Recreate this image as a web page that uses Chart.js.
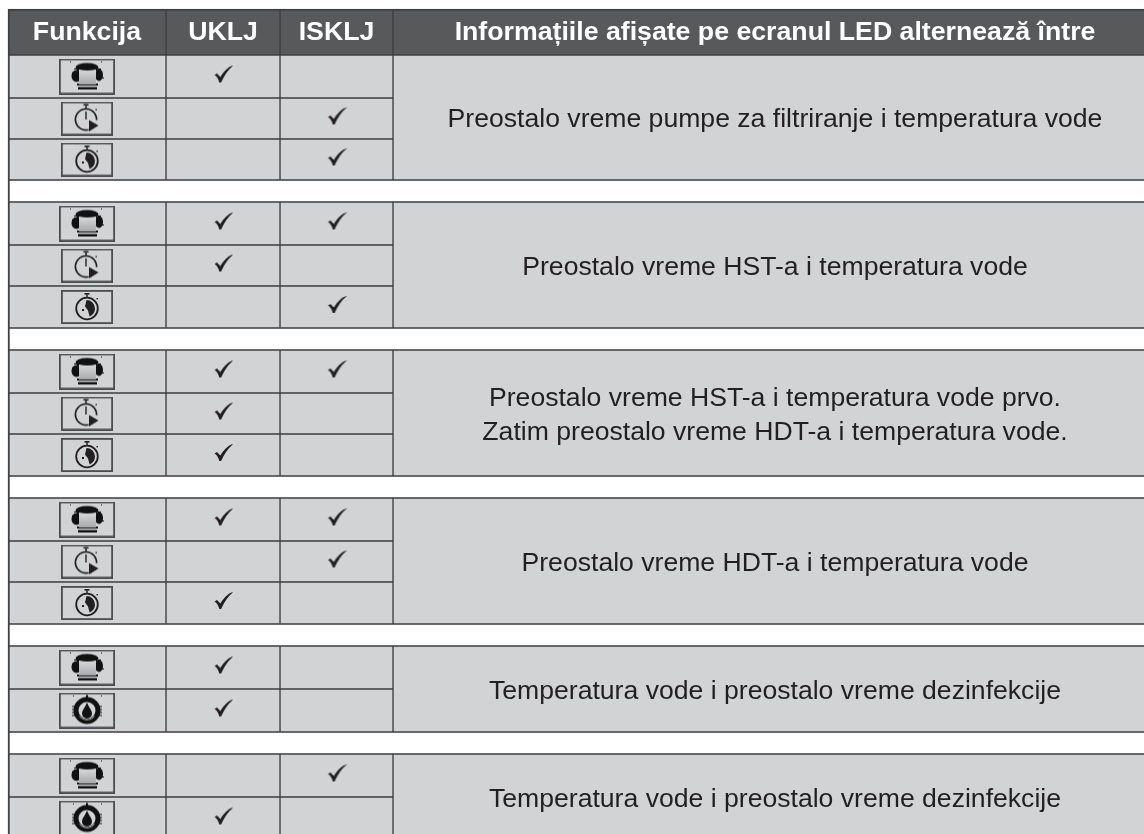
<!DOCTYPE html>
<html>
<head>
<meta charset="utf-8">
<title>Funkcija</title>
<script src="https://cdn.jsdelivr.net/npm/chart.js@4"></script>
<style>
  html, body { margin: 0; padding: 0; background: #fff; }
  canvas { display: block; }
</style>
</head>
<body>
<canvas id="myChart" width="1144" height="834"></canvas>
<script>
// table content
const headers = ["Funkcija", "UKLJ", "ISKLJ", "Informațiile afișate pe ecranul LED alternează între"];
const functionIcons = [
  "pump", "timerPlay", "timerClock",
  "pump", "timerPlay", "timerClock",
  "pump", "timerPlay", "timerClock",
  "pump", "timerPlay", "timerClock",
  "pump", "dial",
  "pump", "dial",
];
const onChecks =  [1, 0, 0, 1, 1, 0, 1, 1, 1, 1, 0, 1, 1, 1, 0, 1];
const offChecks = [0, 1, 1, 1, 0, 1, 1, 0, 0, 1, 1, 0, 0, 0, 1, 0];
const groupMessages = [
  ["Preostalo vreme pumpe za filtriranje i temperatura vode"],
  ["Preostalo vreme HST-a i temperatura vode"],
  ["Preostalo vreme HST-a i temperatura vode prvo.", "Zatim preostalo vreme HDT-a i temperatura vode."],
  ["Preostalo vreme HDT-a i temperatura vode"],
  ["Temperatura vode i preostalo vreme dezinfekcije"],
  ["Temperatura vode i preostalo vreme dezinfekcije"],
];

// layout of the table, in axis units (axes run 1:1 with the canvas)
const colEdges = [8, 166, 280, 393, 1157];
const headerEdges = [9, 55];
const groupEdges = [
  [55, 98, 139, 180],
  [202, 245, 286, 328],
  [350, 393, 434, 476],
  [498, 541, 582, 624],
  [646, 689, 732],
  [754, 797, 840],
];

const lineColor = "#3f3f41";
const headerFill = "#58595b";
const cellFill = "#d1d3d4";
const textColor = "#231f20";

const center = (a, b) => (a + b) / 2;
const colCenter = (i) => center(colEdges[i], colEdges[i + 1]);
const colWidth = (i) => colEdges[i + 1] - colEdges[i];

// row spans, one per table row
const rowSpans = [];
groupEdges.forEach((edges) => {
  for (let i = 0; i < edges.length - 1; i++) rowSpans.push([edges[i], edges[i + 1]]);
});

function makeCanvas(w, h, draw) {
  const c = document.createElement("canvas");
  c.width = w;
  c.height = h;
  draw(c.getContext("2d"), w, h);
  return c;
}

function iconBox(ctx, w, h) {
  ctx.strokeStyle = "#4d4d4f";
  ctx.lineWidth = 1.8;
  ctx.strokeRect(0.9, 0.9, w - 1.8, h - 1.8);
}

function drawPump(ctx, w, h) {
  iconBox(ctx, w, h);
  ctx.fillStyle = "#111";
  ctx.fillRect(11, 3, 1, 1);
  ctx.fillRect(42, 3, 1, 1);
  ctx.filter = "blur(0.6px)";
  // top cap
  ctx.beginPath();
  ctx.ellipse(28, 9, 11.5, 4.5, 0, 0, Math.PI * 2);
  ctx.fill();
  ctx.fillRect(18, 9, 20, 3);
  // side blobs
  ctx.beginPath();
  ctx.ellipse(17.5, 17.5, 5, 6, 0, 0, Math.PI * 2);
  ctx.fill();
  ctx.beginPath();
  ctx.ellipse(40, 16.5, 4, 6, 0, 0, Math.PI * 2);
  ctx.fill();
  // side streaks
  ctx.fillRect(15, 10, 3, 1);
  ctx.fillRect(13, 14, 3, 1);
  ctx.fillRect(39, 10, 3, 1);
  ctx.fillRect(42, 19, 3, 1);
  // bottom lip
  ctx.fillRect(18, 25, 21, 2);
  ctx.fillRect(19, 28.5, 19, 2.5);
  // body
  const g = ctx.createLinearGradient(0, 11, 0, 27);
  g.addColorStop(0, "#d8d9da");
  g.addColorStop(1, "#a3a5a7");
  ctx.fillStyle = g;
  ctx.beginPath();
  ctx.moveTo(20, 11);
  ctx.quadraticCurveTo(28.5, 13, 37, 11);
  ctx.lineTo(37, 26);
  ctx.lineTo(20, 26);
  ctx.closePath();
  ctx.fill();
  ctx.filter = "none";
}

function stopwatchBase(ctx, cx, cy) {
  ctx.strokeStyle = "#231f20";
  ctx.fillStyle = "#231f20";
  ctx.lineWidth = 1.6;
  ctx.fillRect(cx - 2.5, cy - 15.5, 5, 1.6);
  ctx.fillRect(cx - 0.7, cy - 14.5, 1.4, 3.5);
  ctx.fillRect(cx + 9.5, cy - 10.5, 1.4, 1.4);
}

function drawTimerPlay(ctx, w, h) {
  iconBox(ctx, w, h);
  const cx = 25, cy = 18;
  stopwatchBase(ctx, cx, cy);
  ctx.lineWidth = 1.7;
  ctx.beginPath();
  ctx.arc(cx, cy, 10.6, Math.PI * 0.42, Math.PI * 2.02);
  ctx.stroke();
  ctx.fillRect(cx - 0.7, cy - 8, 1.4, 8);
  ctx.beginPath();
  ctx.moveTo(cx + 3, cy + 0.5);
  ctx.lineTo(cx + 12.5, cy + 6);
  ctx.lineTo(cx + 3, cy + 12);
  ctx.closePath();
  ctx.fill();
}

function drawTimerClock(ctx, w, h) {
  iconBox(ctx, w, h);
  const cx = 26, cy = 18.5;
  stopwatchBase(ctx, cx, cy);
  ctx.lineWidth = 1.8;
  ctx.beginPath();
  ctx.arc(cx, cy, 10.8, 0, Math.PI * 2);
  ctx.stroke();
  ctx.beginPath();
  ctx.moveTo(cx - 0.5, cy - 8.5);
  ctx.arc(cx - 0.5, cy, 8.5, -Math.PI / 2, Math.PI * 0.38);
  ctx.lineTo(cx + 1, cy + 2);
  ctx.lineTo(cx - 2, cy - 2);
  ctx.closePath();
  ctx.fill();
  ctx.fillRect(cx - 5, cy + 0.5, 2, 2);
}

function drawDial(ctx, w, h) {
  iconBox(ctx, w, h);
  const cx = 28, cy = 18;
  ctx.fillStyle = "#111";
  ctx.strokeStyle = "#111";
  ctx.fillRect(14, 3, 1, 1);
  ctx.fillRect(42, 3, 1, 1);
  ctx.filter = "blur(0.5px)";
  ctx.lineWidth = 5;
  ctx.beginPath();
  ctx.arc(cx, cy, 11, 0, Math.PI * 2);
  ctx.stroke();
  ctx.fillRect(cx - 1, cy - 15.5, 2, 3);
  ctx.lineWidth = 1;
  [-4, -1, 2, 5].forEach((d) => {
    ctx.beginPath();
    ctx.moveTo(cx - 15, cy + d);
    ctx.lineTo(cx - 12, cy + d);
    ctx.moveTo(cx + 15, cy + d);
    ctx.lineTo(cx + 12, cy + d);
    ctx.stroke();
  });
  // drop
  ctx.beginPath();
  ctx.moveTo(cx, cy - 8);
  ctx.bezierCurveTo(cx + 2, cy - 3, cx + 5, cy + 0, cx + 5, cy + 3);
  ctx.arc(cx, cy + 3, 5, 0, Math.PI);
  ctx.bezierCurveTo(cx - 5, cy + 0, cx - 2, cy - 3, cx, cy - 8);
  ctx.fill();
  ctx.filter = "none";
  ctx.strokeStyle = "#d1d3d4";
  ctx.lineWidth = 0.8;
  ctx.beginPath();
  ctx.arc(cx, cy, 9.4, Math.PI * 0.2, Math.PI * 0.8);
  ctx.stroke();
}

const iconStyles = {
  pump: makeCanvas(56, 36, drawPump),
  timerPlay: makeCanvas(52, 34, drawTimerPlay),
  timerClock: makeCanvas(52, 34, drawTimerClock),
  dial: makeCanvas(56, 36, drawDial),
};

// glyph sits a little above the row centre, like in the manual
const checkStyle = makeCanvas(20, 24, (ctx) => {
  ctx.fillStyle = "#231f20";
  ctx.translate(1.5, 1);
  ctx.beginPath();
  ctx.moveTo(0, 9.5);
  ctx.lineTo(2.5, 8);
  ctx.lineTo(5.8, 11.5);
  ctx.bezierCurveTo(9, 6, 13, 2, 18, 0);
  ctx.lineTo(18, 0.8);
  ctx.bezierCurveTo(13, 5, 10, 10, 6.6, 17);
  ctx.lineTo(4.8, 17);
  ctx.bezierCurveTo(3.8, 13.5, 2.5, 11, 0, 9.5);
  ctx.closePath();
  ctx.fill();
});

function columnBars(col) {
  const data = [{ x: colCenter(col), y: headerEdges }];
  const fills = [headerFill];
  if (col < 3) {
    rowSpans.forEach((span) => {
      data.push({ x: colCenter(col), y: span });
      fills.push(cellFill);
    });
  } else {
    groupEdges.forEach((edges) => {
      data.push({ x: colCenter(col), y: [edges[0], edges[edges.length - 1]] });
      fills.push(cellFill);
    });
  }
  return {
    type: "bar",
    label: headers[col],
    data: data,
    backgroundColor: fills,
    borderColor: lineColor,
    borderWidth: (c) => ({ left: col === 0 ? 2 : 1, right: 1, top: c.dataIndex === 0 ? 2 : 1, bottom: 1 }),
    borderSkipped: false,
    barThickness: colWidth(col),
    grouped: false,
    order: 2,
  };
}

// white strips between the groups
const spacerBars = {
  type: "bar",
  label: "spacer",
  data: groupEdges.slice(1).map((edges, i) => {
    const prev = groupEdges[i];
    return { x: center(colEdges[0], colEdges[4]), y: [prev[prev.length - 1], edges[0]] };
  }),
  backgroundColor: "#ffffff",
  borderColor: lineColor,
  borderWidth: { left: 2, right: 0, top: 1, bottom: 1 },
  borderSkipped: false,
  barThickness: colEdges[4] - colEdges[0],
  grouped: false,
  order: 2,
};

const iconPoints = {
  type: "scatter",
  label: "icons",
  data: rowSpans.map((span) => ({ x: colCenter(0), y: center(span[0], span[1]) })),
  pointStyle: functionIcons.map((name) => iconStyles[name]),
  order: 0,
};

function checkPoints(col, flags) {
  const pts = [];
  flags.forEach((flag, i) => {
    if (flag) pts.push({ x: colCenter(col), y: center(rowSpans[i][0], rowSpans[i][1]) });
  });
  return { type: "scatter", label: headers[col], data: pts, pointStyle: checkStyle, order: 0 };
}

const tableText = {
  id: "tableText",
  afterDatasetsDraw(chart) {
    const { ctx, scales } = chart;
    const px = (v) => scales.x.getPixelForValue(v);
    const py = (v) => scales.y.getPixelForValue(v);
    ctx.save();
    ctx.textAlign = "center";
    ctx.textBaseline = "middle";
    ctx.fillStyle = "#ffffff";
    ctx.font = "bold 26.7px 'Liberation Sans'";
    headers.forEach((text, i) => {
      ctx.fillText(text, px(colCenter(i)), py(center(headerEdges[0], headerEdges[1]) + 1));
    });
    ctx.fillStyle = textColor;
    ctx.font = "26.6px 'Liberation Sans'";
    groupMessages.forEach((lines, g) => {
      const edges = groupEdges[g];
      const mid = center(edges[0], edges[edges.length - 1]) + 2.5;
      lines.forEach((line, i) => {
        ctx.fillText(line, px(colCenter(3)), py(mid + (i - (lines.length - 1) / 2) * 34));
      });
    });
    ctx.restore();
  },
};

var ctx = document.getElementById("myChart").getContext("2d");
var myChart = new Chart(ctx, {
  type: "bar",
  data: {
    datasets: [
      iconPoints,
      checkPoints(1, onChecks),
      checkPoints(2, offChecks),
      columnBars(0),
      columnBars(1),
      columnBars(2),
      columnBars(3),
      spacerBars,
    ],
  },
  options: {
    responsive: false,
    animation: false,
    layout: { padding: 0, autoPadding: false },
    plugins: { legend: { display: false }, tooltip: { enabled: false } },
    scales: {
      x: { type: "linear", display: false, min: 0, max: 1144, offset: false },
      y: { type: "linear", display: false, min: 0, max: 834, reverse: true },
    },
  },
  plugins: [tableText],
});
</script>
</body>
</html>
